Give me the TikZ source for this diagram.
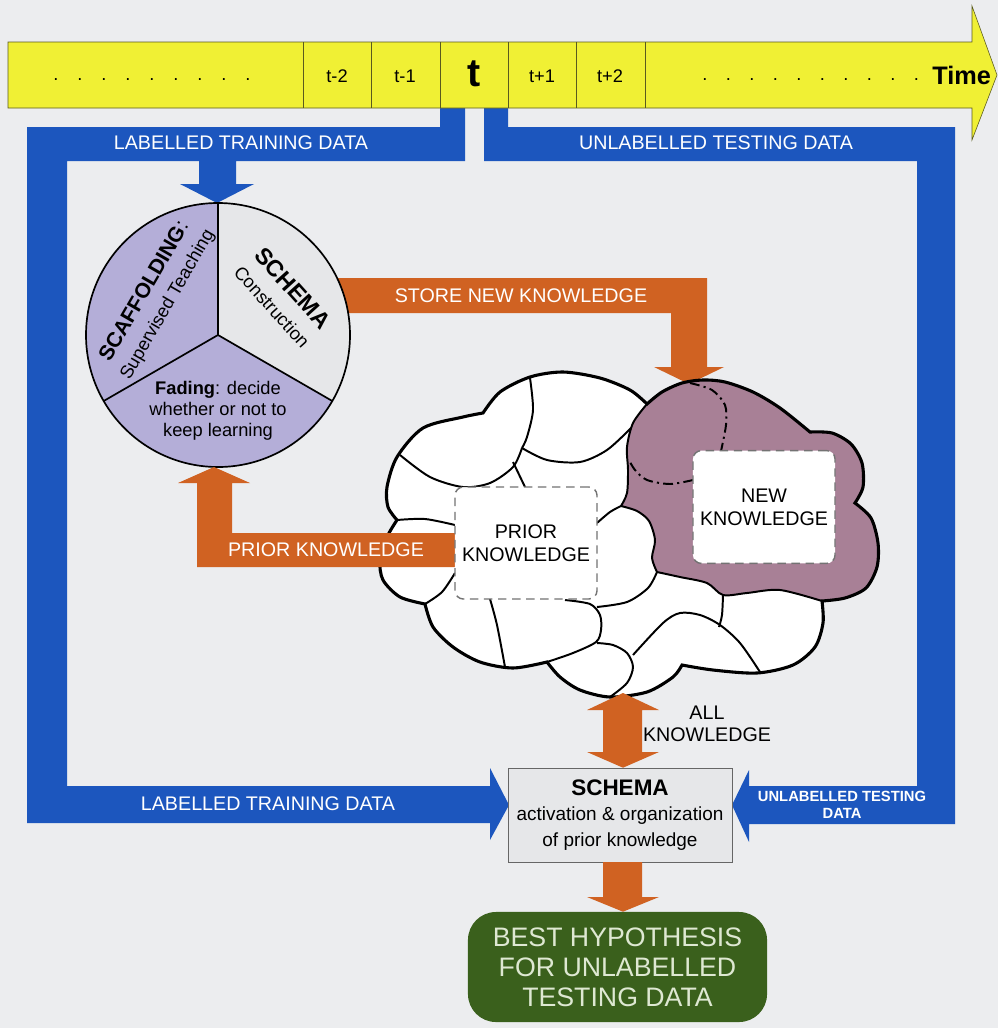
\documentclass[tikz,border=0pt]{standalone}
\usepackage{fontspec}
\setmainfont{Liberation Sans}
\usetikzlibrary{calc}

\definecolor{bgray}{RGB}{236,237,239}
\definecolor{tyellow}{RGB}{240,240,52}
\definecolor{tline}{RGB}{90,90,30}
\definecolor{dblue}{RGB}{28,86,190}
\definecolor{korange}{RGB}{208,98,34}
\definecolor{lav}{RGB}{180,174,216}
\definecolor{lgray}{RGB}{230,231,233}
\definecolor{mauve}{RGB}{168,128,150}
\definecolor{hgreen}{RGB}{58,96,28}
\definecolor{htext}{RGB}{222,232,210}

\tikzset{
  tlbl/.style={font=\fontsize{13}{15}\selectfont},
  tdot/.style={font=\fontsize{13}{15}\selectfont, inner sep=0pt},
  bluelbl/.style={text=white, font=\fontsize{14}{16}\selectfont},
  orglbl/.style={text=white, font=\fontsize{14}{16}\selectfont},
  knowbox/.style={draw=black!55, line width=1pt, dash pattern=on 6pt off 4pt,
    rounded corners=6pt, fill=white, fill opacity=0.88, text opacity=1,
    align=center, font=\fontsize{14}{16.3}\selectfont},
  cloudline/.style={line width=1.4pt},
  dashdotline/.style={line width=1.4pt, dash pattern=on 7pt off 3pt on 1.5pt off 3pt},
}

\newcommand{\cloudpath}{%
  plot[smooth] coordinates {(483,413) (500,392) (530,377) (563,372) (600,378) (630,390) (647,404)}
  -- plot[smooth] coordinates {(647,404) (662,392) (682,383) (703,380) (725,382) (753,392) (780,408) (810,432)}
  -- plot[smooth] coordinates {(810,432) (832,433) (851,444) (862,463) (863,487) (855,503)}
  -- plot[smooth] coordinates {(855,503) (871,518) (878,543) (877,567) (866,588) (845,598) (822,601)}
  -- plot[smooth] coordinates {(822,601) (823,623) (815,647) (793,665) (757,673) (713,670) (682,665)}
  -- plot[smooth] coordinates {(682,665) (673,677) (647,692) (610,697) (580,690) (560,677) (547,662)}
  -- plot[smooth] coordinates {(547,662) (513,668) (480,662) (453,647) (433,627) (425,604)}
  -- plot[smooth] coordinates {(425,604) (400,597) (383,580) (380,560) (387,537) (397,520)}
  -- plot[smooth] coordinates {(397,520) (388,507) (387,487) (397,457) (423,428) (463,417) (483,413)}
  -- cycle}

\begin{document}
\begin{tikzpicture}[x=0.025cm, y=-0.025cm]
  \fill[bgray] (0,0) rectangle (998,1028);
  \useasboundingbox (0,0) rectangle (998,1028);

  % 青い矢印
  \fill[dblue] (440,108) -- (465,108) -- (465,161) -- (236,161) -- (236,184) -- (254,184)
    -- (217,203) -- (180,184) -- (199,184) -- (199,161) -- (67,161) -- (67,786) -- (490,786)
    -- (490,768) -- (509,805) -- (490,840) -- (490,823) -- (27,823) -- (27,127) -- (440,127) -- cycle;
  \fill[dblue] (484,108) -- (508,108) -- (508,127) -- (955,127) -- (955,824) -- (749,824)
    -- (749,842) -- (732,805) -- (749,770) -- (749,786) -- (917,786) -- (917,161) -- (484,161) -- cycle;

  \node[bluelbl] (ltrain) at (241,143) {LABELLED TRAINING DATA};
  \node[bluelbl] (utest) at (716,143) {UNLABELLED TESTING DATA};
  \node[bluelbl] (ltrainb) at (268,804) {LABELLED TRAINING DATA};
  \node[bluelbl, font=\fontsize{10.5}{12.5}\selectfont\bfseries, align=center] (utestb) at (842,805)
    {UNLABELLED TESTING\\DATA};

  % 時間軸
  \draw[fill=tyellow, draw=tline] (8,42) -- (972,42) -- (972,6) -- (997,75) -- (972,140)
    -- (972,108) -- (8,108) -- cycle;
  \foreach \x in {303,371,440,508,576,645} {
    \draw[tline] (\x,42) -- (\x,108);
  }
  \foreach \i in {0,...,8} {
    \node[tdot] (ldot\i) at (56+24*\i, 80) {.};
  }
  \foreach \i in {0,...,9} {
    \node[tdot] (rdot\i) at (705+23.5*\i, 80) {.};
  }
  \node[tlbl] (tm2) at (337,76) {t-2};
  \node[tlbl] (tm1) at (405,76) {t-1};
  \node[font=\fontsize{28}{30}\selectfont\bfseries] (tnow) at (474,74) {t};
  \node[tlbl] (tp1) at (542,76) {t+1};
  \node[tlbl] (tp2) at (610,76) {t+2};
  \node[anchor=east, font=\fontsize{18}{20}\selectfont\bfseries] (time) at (996,75) {Time};

  % STORE NEW KNOWLEDGE
  \fill[korange] (330,278) -- (707,278) -- (707,367) -- (724,367) -- (689,384) -- (654,367)
    -- (671,367) -- (671,313) -- (330,313) -- cycle;
  \node[orglbl] (storelbl) at (521,296) {STORE NEW KNOWLEDGE};

  % 円
  \coordinate (wc) at (218,335);
  \fill[lav] (wc) -- ++(150:132) arc[start angle=150, end angle=270, radius=132] -- cycle;
  \fill[lgray] (wc) -- ++(-90:132) arc[start angle=-90, end angle=30, radius=132] -- cycle;
  \fill[lav] (wc) -- ++(30:132) arc[start angle=30, end angle=150, radius=132] -- cycle;
  \foreach \a in {-90,30,150} {
    \draw[line width=1.2pt] (wc) -- ++(\a:132);
  }
  \draw[line width=1.2pt] (wc) circle[radius=132];
  \node[rotate=60, align=center, inner sep=1pt, font=\fontsize{13}{18.5}\selectfont] (scaf) at (156,298)
    {{\fontsize{15}{18.5}\selectfont\bfseries SCAFFOLDING}{\fontsize{15}{18.5}\selectfont:}\\Supervised Teaching};
  \node[rotate=-48, align=center, inner sep=1pt, font=\fontsize{13}{19}\selectfont] (constr) at (283,297)
    {{\fontsize{16.5}{19}\selectfont\bfseries SCHEMA}\\Construction};
  \node[align=center, inner sep=1pt, font=\fontsize{13}{15}\selectfont] (fading) at (218,411)
    {\textbf{Fading}: decide\\whether or not to\\keep learning};

  % 雲
  \fill[white] \cloudpath;
  \fill[mauve] plot[smooth] coordinates {(647,404) (662,392) (682,383) (703,380) (725,382) (753,392) (780,408) (810,432)}
    -- plot[smooth] coordinates {(810,432) (832,433) (851,444) (862,463) (863,487) (855,503)}
    -- plot[smooth] coordinates {(855,503) (871,518) (878,543) (877,567) (866,588) (845,598) (822,601)}
    -- plot[smooth] coordinates {(822,601) (780,590) (747,593) (723,595) (707,583) (680,577) (657,572)}
    -- plot[smooth] coordinates {(657,572) (652,558) (655,540) (649,521) (637,511) (621,506)}
    -- plot[smooth] coordinates {(621,506) (627,493) (628,470) (627,447) (633,423) (647,404)} -- cycle;
  \draw[cloudline] plot[smooth] coordinates {(530,378) (533,410) (527,437) (522,448)};
  \draw[cloudline] plot[smooth] coordinates {(400,455) (430,477) (463,487) (490,483) (513,467) (522,448)};
  \draw[cloudline] plot[smooth] coordinates {(522,448) (547,460) (580,462) (607,450) (631,428)};
  \draw[cloudline] (513,462) -- (525,487);
  \draw[cloudline] plot[smooth] coordinates {(397,520) (425,519) (455,525)};
  \draw[cloudline] plot[smooth] coordinates {(425,604) (442,592) (455,573)};
  \draw[cloudline] plot[smooth] coordinates {(490,599) (497,625) (505,667)};
  \draw[cloudline] plot[smooth] coordinates {(565,600) (590,604) (600,615) (601,630) (596,642) (573,653) (547,662)};
  \draw[cloudline] plot[smooth] coordinates {(597,523) (610,512) (621,506)};
  \draw[cloudline] plot[smooth] coordinates {(657,572) (648,588) (627,602) (597,607)};
  \draw[cloudline] plot[smooth] coordinates {(647,404) (633,423) (627,447) (628,470) (627,493) (621,506)};
  \draw[cloudline] plot[smooth] coordinates {(621,506) (637,511) (649,521) (655,540) (652,558) (657,572)};
  \draw[cloudline] plot[smooth] coordinates {(657,572) (680,577) (707,583) (723,595) (747,593) (780,590) (822,601)};
  \draw[cloudline] plot[smooth] coordinates {(723,595) (722,615) (719,627)};
  \draw[cloudline] plot[smooth] coordinates {(597,643) (613,645) (627,653) (633,667) (627,683) (610,697)};
  \draw[cloudline] plot[smooth] coordinates {(633,655) (663,623) (680,613) (700,615) (720,625) (740,643) (760,672)};
  \draw[dashdotline] plot[smooth] coordinates {(690,383) (712,390) (725,405) (726,425) (721,451)};
  \draw[dashdotline] plot[smooth] coordinates {(693,480) (670,484) (647,480) (635,470) (629,460)};
  \draw[line width=2.2pt] \cloudpath;

  % PRIOR KNOWLEDGE
  \fill[korange] (455,533) -- (455,567) -- (197,567) -- (197,483) -- (178,483) -- (214,467)
    -- (250,483) -- (232,483) -- (232,533) -- cycle;
  \node[orglbl] (priorlbl) at (326,550) {PRIOR KNOWLEDGE};

  \node[knowbox, minimum width=3.55cm, minimum height=2.8cm] (prior) at (526,543) {PRIOR\\KNOWLEDGE};
  \node[knowbox, fill opacity=1, minimum width=3.55cm, minimum height=2.82cm] (newk) at (764,507) {NEW\\KNOWLEDGE};

  % SCHEMA
  \node[draw=black!60, fill=lgray, minimum width=5.6cm, minimum height=2.35cm, align=center,
    font=\fontsize{13.5}{18}\selectfont] (schema) at (620,815)
    {{\fontsize{16}{18}\selectfont\bfseries SCHEMA}\\activation \& organization\\of prior knowledge};
  \node[fill=hgreen, rounded corners=0.7cm, minimum width=7.475cm, minimum height=2.75cm,
    text=htext, align=center, font=\fontsize{19}{21.3}\selectfont] (hyp) at (617.5,967)
    {BEST HYPOTHESIS\\FOR UNLABELLED\\TESTING DATA};

  \coordinate (cloudbot) at (623,693);
  \fill[korange] (cloudbot) -- (659,710) -- (642,710) -- (642,752) -- (659,752) -- (cloudbot |- schema.north)
    -- (587,752) -- (603,752) -- (603,710) -- (587,710) -- cycle;
  \node[align=center, font=\fontsize{14}{15.6}\selectfont] (allk) at (707,724) {ALL\\KNOWLEDGE};
  \fill[korange] (603,862) -- (642,862) -- (642,897) -- (659,897) -- (cloudbot |- hyp.north)
    -- (587,897) -- (603,897) -- cycle;
\end{tikzpicture}
\end{document}
